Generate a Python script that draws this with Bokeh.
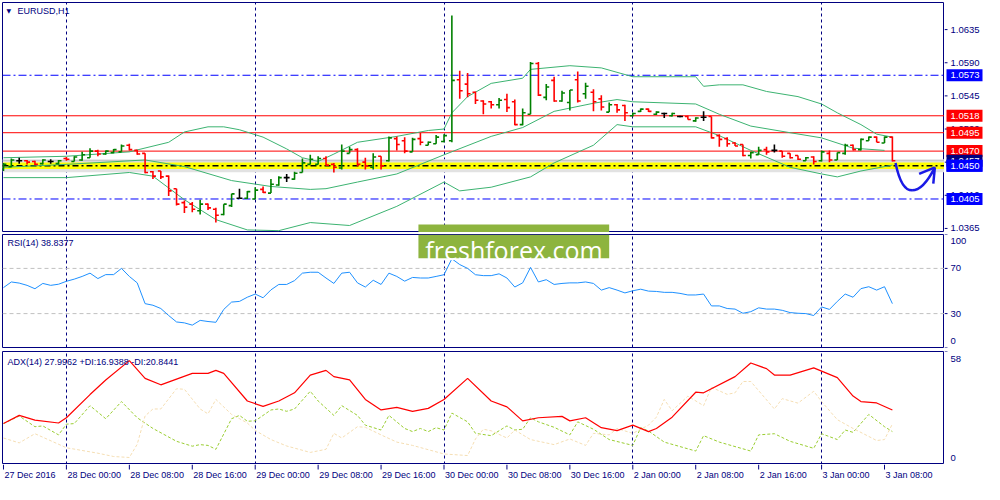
from bokeh.plotting import figure
from bokeh.models import (Range1d, FixedTicker, Span, Label, BoxAnnotation, Grid,
                          ColumnDataSource)
from bokeh.layouts import column, row
from bokeh.embed import file_html
from bokeh.resources import INLINE
from bokeh.core.properties import value

# ---------------- data (EURUSD H1) ----------------
opens = [1.0446, 1.0449, 1.0457, 1.0457, 1.0456, 1.0453, 1.0456, 1.0453, 1.0460, 1.0456,
         1.0458, 1.0461, 1.0470, 1.0466, 1.0468, 1.0469, 1.0478, 1.0471, 1.0467, 1.0442,
         1.0443, 1.0436, 1.0419, 1.0400, 1.0398, 1.0389, 1.0398, 1.0391, 1.0384, 1.0396,
         1.0406, 1.0406, 1.0405, 1.0418, 1.0413, 1.0424, 1.0434, 1.0432, 1.0441, 1.0452,
         1.0452, 1.0460, 1.0452, 1.0447, 1.0467, 1.0472, 1.0455, 1.0448, 1.0463, 1.0457,
         1.0487, 1.0484, 1.0469, 1.0487, 1.0478, 1.0480, 1.0483, 1.0484, 1.0567, 1.0561,
         1.0550, 1.0538, 1.0537, 1.0533, 1.0540, 1.0537, 1.0506, 1.0520, 1.0589, 1.0543,
         1.0566, 1.0538, 1.0536, 1.0567, 1.0548, 1.0550, 1.0541, 1.0523, 1.0533, 1.0532,
         1.0518, 1.0524, 1.0527, 1.0520, 1.0521, 1.0518, 1.0517, 1.0517, 1.0511, 1.0516,
         1.0517, 1.0491, 1.0487, 1.0481, 1.0479, 1.0464, 1.0465, 1.0472, 1.0471, 1.0470,
         1.0467, 1.0464, 1.0457, 1.0462, 1.0457, 1.0467, 1.0458, 1.0467, 1.0478, 1.0472,
         1.0484, 1.0489, 1.0481, 1.0489]
highs = [1.0454, 1.0460, 1.0461, 1.0458, 1.0457, 1.0459, 1.0459, 1.0458, 1.0462, 1.0463,
         1.0469, 1.0474, 1.0472, 1.0471, 1.0473, 1.0479, 1.0480, 1.0472, 1.0467, 1.0443,
         1.0443, 1.0437, 1.0419, 1.0403, 1.0401, 1.0404, 1.0399, 1.0393, 1.0398, 1.0412,
         1.0419, 1.0416, 1.0421, 1.0422, 1.0432, 1.0436, 1.0439, 1.0442, 1.0460, 1.0465,
         1.0463, 1.0463, 1.0454, 1.0479, 1.0476, 1.0474, 1.0461, 1.0467, 1.0463, 1.0490,
         1.0490, 1.0489, 1.0488, 1.0495, 1.0483, 1.0492, 1.0493, 1.0654, 1.0579, 1.0576,
         1.0551, 1.0539, 1.0538, 1.0542, 1.0548, 1.0540, 1.0528, 1.0591, 1.0591, 1.0561,
         1.0571, 1.0552, 1.0553, 1.0578, 1.0563, 1.0554, 1.0546, 1.0536, 1.0534, 1.0533,
         1.0522, 1.0528, 1.0528, 1.0524, 1.0522, 1.0522, 1.0518, 1.0518, 1.0516, 1.0524,
         1.0517, 1.0493, 1.0489, 1.0482, 1.0479, 1.0469, 1.0476, 1.0476, 1.0479, 1.0470,
         1.0467, 1.0464, 1.0462, 1.0463, 1.0471, 1.0471, 1.0468, 1.0480, 1.0479, 1.0487,
         1.0490, 1.0490, 1.0490, 1.0490]
lows = [1.0443, 1.0448, 1.0453, 1.0452, 1.0451, 1.0452, 1.0453, 1.0452, 1.0457, 1.0456,
        1.0457, 1.0461, 1.0463, 1.0465, 1.0467, 1.0469, 1.0471, 1.0465, 1.0440, 1.0432,
        1.0432, 1.0409, 1.0396, 1.0386, 1.0387, 1.0384, 1.0390, 1.0373, 1.0383, 1.0394,
        1.0406, 1.0405, 1.0405, 1.0413, 1.0413, 1.0423, 1.0428, 1.0431, 1.0441, 1.0452,
        1.0452, 1.0450, 1.0441, 1.0445, 1.0467, 1.0449, 1.0445, 1.0445, 1.0445, 1.0456,
        1.0471, 1.0467, 1.0469, 1.0478, 1.0478, 1.0480, 1.0482, 1.0482, 1.0541, 1.0543,
        1.0534, 1.0520, 1.0528, 1.0528, 1.0523, 1.0505, 1.0505, 1.0520, 1.0545, 1.0539,
        1.0537, 1.0537, 1.0525, 1.0536, 1.0541, 1.0524, 1.0525, 1.0523, 1.0522, 1.0511,
        1.0517, 1.0523, 1.0523, 1.0519, 1.0515, 1.0517, 1.0516, 1.0513, 1.0510, 1.0511,
        1.0487, 1.0476, 1.0476, 1.0477, 1.0463, 1.0460, 1.0465, 1.0465, 1.0468, 1.0461,
        1.0460, 1.0458, 1.0457, 1.0452, 1.0456, 1.0455, 1.0458, 1.0465, 1.0471, 1.0471,
        1.0484, 1.0482, 1.0481, 1.0456]
closes = [1.0452, 1.0458, 1.0457, 1.0455, 1.0452, 1.0458, 1.0456, 1.0457, 1.0459, 1.0462,
          1.0465, 1.0470, 1.0466, 1.0470, 1.0472, 1.0477, 1.0472, 1.0466, 1.0441, 1.0436,
          1.0435, 1.0416, 1.0398, 1.0394, 1.0391, 1.0398, 1.0393, 1.0383, 1.0398, 1.0412,
          1.0406, 1.0415, 1.0417, 1.0414, 1.0425, 1.0434, 1.0434, 1.0440, 1.0454, 1.0459,
          1.0460, 1.0451, 1.0448, 1.0470, 1.0472, 1.0452, 1.0450, 1.0462, 1.0450, 1.0488,
          1.0479, 1.0470, 1.0486, 1.0482, 1.0482, 1.0489, 1.0491, 1.0566, 1.0552, 1.0548,
          1.0539, 1.0534, 1.0533, 1.0539, 1.0529, 1.0506, 1.0522, 1.0589, 1.0546, 1.0557,
          1.0538, 1.0549, 1.0553, 1.0538, 1.0558, 1.0537, 1.0530, 1.0533, 1.0526, 1.0522,
          1.0521, 1.0527, 1.0524, 1.0523, 1.0521, 1.0521, 1.0517, 1.0513, 1.0515, 1.0516,
          1.0488, 1.0486, 1.0480, 1.0477, 1.0464, 1.0468, 1.0471, 1.0469, 1.0471, 1.0463,
          1.0461, 1.0459, 1.0461, 1.0456, 1.0469, 1.0458, 1.0468, 1.0478, 1.0472, 1.0486,
          1.0489, 1.0482, 1.0489, 1.0457]

# Bollinger bands (sampled along the curves)
bb_up_x = [0, 8, 16, 21, 23, 26, 28, 30, 33, 36, 38, 40, 42, 45, 50, 54, 56, 57, 59, 62, 66,
           67, 68, 72, 76, 80, 88, 89, 91, 94, 97, 101, 104, 106, 109, 111, 113]
bb_up = [1.0461, 1.0463, 1.0469, 1.0482, 1.0496, 1.0503, 1.0503, 1.0499, 1.0489, 1.0473,
         1.0461, 1.0456, 1.0466, 1.0482, 1.0490, 1.0498, 1.0500, 1.0522, 1.0544, 1.0562,
         1.0569, 1.0581, 1.0582, 1.0586, 1.0583, 1.0571, 1.0571, 1.0558, 1.0560, 1.0560,
         1.0551, 1.0544, 1.0534, 1.0522, 1.0506, 1.0493, 1.0489]
bb_mid_x = [0, 8, 18, 23, 29, 34, 39, 41, 45, 50, 56, 62, 66, 70, 75, 78, 80, 88, 91, 95,
            100, 104, 108, 112]
bb_mid = [1.0448, 1.0452, 1.0458, 1.0449, 1.0430, 1.0422, 1.0418, 1.0419, 1.0428, 1.0439,
          1.0465, 1.0490, 1.0502, 1.0524, 1.0535, 1.0540, 1.0537, 1.0534, 1.0520, 1.0504,
          1.0495, 1.0488, 1.0474, 1.0471]
bb_low_x = [0, 8, 16, 19, 23, 27, 31, 35, 39, 44, 50, 56, 58, 62, 67, 70, 75, 78, 80, 88,
            91, 95, 100, 104, 106, 109, 113]
bb_low = [1.0434, 1.0434, 1.0441, 1.0436, 1.0404, 1.0377, 1.0363, 1.0362, 1.0373, 1.0369,
          1.0395, 1.0428, 1.0416, 1.0421, 1.0435, 1.0454, 1.0478, 1.0506, 1.0503, 1.0503,
          1.0491, 1.0471, 1.0448, 1.0439, 1.0435, 1.0443, 1.0451]

rsi = [53, 58, 57, 55, 52, 56.7, 55, 56, 58.6, 60.5,
       62.9, 65.8, 61, 64.5, 64.5, 70, 62.9, 57.2, 38.8, 37.4,
       34.5, 28.3, 22.6, 21.8, 19.8, 24, 23, 22.3, 33.7, 40.2,
       40.8, 44.5, 47.3, 44, 51, 55.8, 55.8, 59.2, 65.8, 66.6,
       66.6, 61.5, 56.7, 65.8, 66.6, 57.2, 53.5, 59.5, 55.8, 65.8,
       62.9, 58.7, 62, 61.5, 61.5, 62.9, 64.4, 78.5, 73.4, 70,
       64.4, 63.6, 63.6, 65.2, 61.5, 53.5, 57.2, 70.9, 58, 60,
       55.8, 56.7, 57.2, 57.2, 58, 56.7, 50.8, 53, 50.8, 48.3,
       50.2, 51.6, 49.9, 49.6, 48.8, 48.8, 47.9, 46.5, 46.5, 47.3,
       36.8, 36.8, 34.5, 34, 30.3, 31.7, 35.1, 34, 34, 32.9,
       30.9, 30.3, 30, 28.3, 35.9, 33.7, 40.8, 47.3, 44.5, 52.1,
       53.8, 50.8, 53.8, 38.8]

adx_x = [0, 2, 4, 7, 8, 11, 13, 16, 18, 20, 24, 26, 27, 28, 31, 33, 35, 37, 39, 41, 42, 44,
         46, 48, 50, 52, 54, 56, 59, 62, 64, 66, 68, 71, 72, 74, 76, 78, 80, 82, 83, 85, 88,
         89, 93, 95, 97, 98, 100, 103, 106, 108, 109, 111, 113]
adx = [21.0, 25.2, 22.8, 21.3, 24.0, 35.9, 43.4, 53.3, 44.2, 40.9, 46.8, 46.8, 48.3, 46.8,
       32.6, 29.8, 32.6, 36.8, 45.9, 48.3, 45.1, 43.4, 33.4, 28.0, 29.3, 27.3, 28.8, 33.4,
       44.2, 32.6, 29.6, 22.4, 24.0, 24.7, 22.4, 24.0, 18.9, 17.4, 20.2, 16.9, 18.5, 24.3,
       37.1, 36.8, 45.1, 52.1, 49.2, 45.9, 45.9, 49.6, 44.6, 35.1, 32.3, 31.6, 28.0]
pdi_x = [0, 2, 4, 5, 7, 8, 9, 11, 13, 15, 17, 19, 22, 24, 25, 26, 27, 29, 30, 31, 32, 34, 35,
         36, 37, 39, 40, 42, 43, 45, 46, 48, 49, 51, 52, 53, 54, 55, 56, 57, 59, 60, 62, 64,
         65, 66, 67, 68, 70, 72, 73, 75, 77, 80, 81, 82, 84, 88, 89, 91, 95, 96, 98, 100,
         103, 104, 106, 107, 108, 110, 112, 113]
pdi = [21.0, 24.9, 19.4, 19.8, 15.2, 20.7, 21.0, 30.2, 23.5, 32.3, 24.0, 18.5, 11.9, 9.4,
       10.2, 9.8, 7.8, 23.5, 25.2, 22.2, 22.4, 28.0, 28.5, 27.3, 28.5, 37.6, 32.6, 25.2,
       30.2, 25.2, 20.2, 17.7, 25.2, 18.5, 16.9, 18.5, 16.9, 18.9, 17.7, 26.4, 21.9, 16.0,
       14.8, 19.8, 17.7, 18.1, 24.0, 21.9, 19.1, 15.2, 21.9, 18.1, 12.8, 9.8, 18.9, 17.2,
       11.5, 6.9, 14.8, 11.5, 6.9, 15.2, 15.8, 11.9, 8.3, 15.8, 12.8, 17.7, 16.5, 25.7,
       19.4, 16.9]
mdi_x = [0, 2, 4, 8, 12, 14, 16, 17, 18, 19, 20, 22, 23, 25, 26, 27, 29, 31, 32, 34, 36, 39,
         41, 42, 43, 45, 46, 48, 50, 52, 56, 59, 60, 61, 62, 64, 65, 67, 70, 72, 74, 75, 77,
         78, 80, 82, 83, 84, 85, 87, 89, 90, 92, 93, 94, 95, 98, 99, 101, 103, 104, 106, 108,
         110, 111, 112, 113]
mdi = [13.6, 11.1, 15.8, 8.6, 5.8, 4.1, 3.6, 10.4, 24.9, 28.5, 28.5, 38.9, 38.6, 28.5, 26.0,
       33.4, 25.7, 21.3, 17.5, 12.8, 9.5, 6.2, 7.8, 16.0, 13.6, 19.4, 19.1, 15.2, 11.5, 9.8,
       5.4, 4.6, 13.1, 18.1, 17.3, 13.6, 17.7, 12.8, 10.2, 13.1, 9.8, 16.0, 15.2, 18.5, 16.0,
       20.2, 24.3, 33.4, 27.6, 35.1, 30.2, 39.6, 36.0, 36.8, 42.6, 42.6, 28.5, 33.8, 31.5,
       37.6, 32.3, 23.0, 18.5, 14.4, 12.3, 12.8, 20.8]

time_ticks = [0, 8, 16, 24, 32, 40, 48, 56, 64, 72, 80, 88, 96, 104, 112]
time_labels = ["27 Dec 2016", "28 Dec 00:00", "28 Dec 08:00", "28 Dec 16:00",
               "29 Dec 00:00", "29 Dec 08:00", "29 Dec 16:00", "30 Dec 00:00",
               "30 Dec 08:00", "30 Dec 16:00", "2 Jan 00:00", "2 Jan 08:00",
               "2 Jan 16:00", "3 Jan 00:00", "3 Jan 08:00"]
day_starts = [8, 32, 56, 80, 104]
price_ticks = [1.0365, 1.0410, 1.0455, 1.0500, 1.0545, 1.0590, 1.0635]
blue_levels = [1.0573, 1.0405]
red_levels = [1.0518, 1.0495, 1.0470]
yellow_level = 1.0450
bid_price = 1.0457
tag_prices = [1.0573, 1.0518, 1.0495, 1.0470, 1.0457, 1.0450, 1.0405]
tag_colors = ["#0000FF", "#FF0000", "#FF0000", "#FF0000", "#000080", "#0000FF", "#0000FF"]
rsi_levels = [30, 70]
rsi_scale = [100, 70, 30, 0]
adx_scale = [58, 0]

# hand-drawn arrow (two cubic pieces + head)
arr_x0 = [113.4, 115.5]; arr_y0 = [1.0454, 1.04167]
arr_cx0 = [113.9, 116.6]; arr_cy0 = [1.0428, 1.04167]
arr_cx1 = [114.6, 117.6]; arr_cy1 = [1.04167, 1.0431]
arr_x1 = [115.5, 118.4]; arr_y1 = [1.04167, 1.0448]
head_x1 = [116.4, 118.2]; head_y1 = [1.0439, 1.0426]

# ---------------- styling ----------------
NAVY = "#000080"
FONT = "Liberation Sans"
PW = 944          # pane figure width (frame 942)
AW = 40           # price-scale strip width
XR = Range1d(-0.125, 119.625)
GREEN_BAR = "#008000"
BB = "#3CB371"
WM = "#8DB43E"


def pane(height, yr, top, bottom):
    p = figure(width=PW, height=height, x_range=XR, y_range=yr,
               output_backend="svg", toolbar_location=None,
               x_axis_location=None, y_axis_location=None,
               min_border_left=2, min_border_right=0,
               min_border_top=top, min_border_bottom=bottom)
    p.background_fill_color = "white"
    p.border_fill_color = "white"
    p.outline_line_color = NAVY
    p.outline_line_width = 1
    for g in p.grid:
        g.visible = False
    p.add_layout(Grid(dimension=0, ticker=FixedTicker(ticks=day_starts),
                      grid_line_color=NAVY, grid_line_dash="3 3", grid_line_width=1))
    return p


def scale_strip(height, yr, top, bottom):
    s = figure(width=AW, height=height, x_range=Range1d(0, AW), y_range=yr,
               output_backend="svg", toolbar_location=None,
               x_axis_location=None, y_axis_location=None,
               min_border_left=0, min_border_right=0,
               min_border_top=top, min_border_bottom=bottom)
    s.outline_line_color = None
    s.background_fill_color = "white"
    s.border_fill_color = "white"
    for g in s.grid:
        g.visible = False
    return s


def scale_marks(s, vals, labels, yoffs):
    n = len(vals)
    s.segment(x0=[0] * n, y0=vals, x1=[3] * n, y1=vals, line_color=NAVY, line_width=1)
    s.text(x=[6] * n, y=vals, text=labels, y_offset=yoffs, text_font=value(FONT),
           text_font_size="9.5px", text_color=NAVY, text_baseline="middle", text_align="left")


def title(p, text, ytop, off, x_off=5):
    p.add_layout(Label(x=XR.start, y=ytop, x_offset=x_off, y_offset=off, text=text,
                       text_font=FONT, text_font_size="9px", text_color=NAVY,
                       text_baseline="middle"))


# ---------------- main price pane ----------------
MAIN_Y = Range1d(1.03595, 1.06718)
main = pane(232, MAIN_Y, 2, 0)

main.add_layout(Span(location=yellow_level, dimension="width", line_color="#E2E2E2",
                     line_width=13, level="underlay"))
main.add_layout(Span(location=yellow_level, dimension="width", line_color="#FFFF00",
                     line_width=6.5, level="underlay"))
main.add_layout(Span(location=bid_price, dimension="width", line_color="#C0C0C0",
                     line_width=1, level="underlay"))
main.add_layout(Span(location=yellow_level, dimension="width", line_color="#000000",
                     line_width=1.5, line_dash="6 3 2 3", level="underlay"))
for lv in red_levels:
    main.add_layout(Span(location=lv, dimension="width", line_color="#FF0000",
                         line_width=1, level="underlay"))
for lv in blue_levels:
    main.add_layout(Span(location=lv, dimension="width", line_color="#0000FF",
                         line_width=1, line_dash="8 3 2 3", level="underlay"))

main.line(bb_up_x, bb_up, line_color=BB, line_width=1)
main.line(bb_mid_x, bb_mid, line_color=BB, line_width=1)
main.line(bb_low_x, bb_low, line_color=BB, line_width=1)

idx = list(range(len(opens)))
colors = [GREEN_BAR if c > o else ("#FF0000" if c < o else "#000000")
          for o, c in zip(opens, closes)]
src = ColumnDataSource(dict(i=idx, il=[i - 0.375 for i in idx], ir=[i + 0.375 for i in idx],
                            o=opens, h=highs, l=lows, c=closes, col=colors))
main.segment(x0="i", y0="l", x1="i", y1="h", line_color="col", line_width=1.6, source=src)
main.segment(x0="il", y0="o", x1="i", y1="o", line_color="col", line_width=1.6, source=src)
main.segment(x0="i", y0="c", x1="ir", y1="c", line_color="col", line_width=1.6, source=src)

main.bezier(x0=arr_x0, y0=arr_y0, x1=arr_x1, y1=arr_y1, cx0=arr_cx0, cy0=arr_cy0,
            cx1=arr_cx1, cy1=arr_cy1, line_color="#1A1AE6", line_width=2.5)
main.segment(x0=[arr_x1[-1]] * 2, y0=[arr_y1[-1]] * 2, x1=head_x1, y1=head_y1,
             line_color="#1A1AE6", line_width=2.5)

main.add_layout(Label(x=XR.start, y=MAIN_Y.end, x_offset=4, y_offset=-8, text="\u25BC",
                      text_font="DejaVu Sans", text_font_size="6px", text_color=NAVY,
                      text_baseline="middle"))
title(main, "EURUSD,H1", MAIN_Y.end, -8, x_off=15)

main.add_layout(BoxAnnotation(left=52.75, right=77.0, top=1.03703, fill_color=WM,
                              fill_alpha=1, line_alpha=0, level="overlay"))

main_scale = scale_strip(232, MAIN_Y, 2, 0)
scale_marks(main_scale, price_ticks, ["%.4f" % v for v in price_ticks], 0)
main_scale.rect(x=[20] * len(tag_prices), y=tag_prices, width=36, height=12,
                height_units="screen", fill_color=tag_colors, line_color=None)
main_scale.text(x=[6] * len(tag_prices), y=tag_prices, text=["%.4f" % v for v in tag_prices],
                text_font=value(FONT), text_font_size="9.5px", text_color="white",
                text_baseline="middle", text_align="left")
# 1.0450 tag sits above the bid tag
main_scale.rect(x=[20], y=[tag_prices[5]], width=36, height=12, height_units="screen",
                fill_color=tag_colors[5], line_color=None)
main_scale.text(x=[6], y=[tag_prices[5]], text=["%.4f" % tag_prices[5]],
                text_font=value(FONT), text_font_size="9.5px", text_color="white",
                text_baseline="middle", text_align="left")

# ---------------- RSI pane ----------------
RSI_Y = Range1d(0, 100)
prsi = pane(117, RSI_Y, 2, 2)
for lv in rsi_levels:
    prsi.add_layout(Span(location=lv, dimension="width", line_color="#C0C0C0",
                         line_width=1, line_dash="4 3", level="underlay"))
prsi.line(idx, rsi, line_color="#1E90FF", line_width=1)
title(prsi, "RSI(14) 38.8377", RSI_Y.end, -8)
prsi.add_layout(BoxAnnotation(left=52.75, right=77.0, bottom=79.0, fill_color=WM,
                              fill_alpha=1, line_alpha=0, level="overlay"))
prsi.add_layout(Label(x=64.9, y=86.0, text="freshforex.com", text_align="center",
                      text_baseline="alphabetic", text_color="white", text_font="Open Sans",
                      text_font_size="25px", level="overlay"))

rsi_scale_fig = scale_strip(117, RSI_Y, 2, 2)
scale_marks(rsi_scale_fig, rsi_scale, [str(v) for v in rsi_scale], [6, 0, 0, -7])

# ---------------- ADX pane ----------------
ADX_Y = Range1d(0, 58)
padx = pane(115, ADX_Y, 2, 0)
padx.line(pdi_x, pdi, line_color="#9ACD32", line_width=1, line_dash="3 2")
padx.line(mdi_x, mdi, line_color="#F5DEB3", line_width=1, line_dash="3 2")
padx.line(adx_x, adx, line_color="#FF0000", line_width=1.2)
title(padx, "ADX(14) 27.9962 +DI:16.9388 -DI:20.8441", ADX_Y.end, -10)

adx_scale_fig = scale_strip(115, ADX_Y, 2, 0)
scale_marks(adx_scale_fig, adx_scale, [str(v) for v in adx_scale], [7, -7])

# ---------------- time scale ----------------
TY = Range1d(0, 20)
tscale = figure(width=PW, height=20, x_range=XR, y_range=TY, output_backend="svg",
                toolbar_location=None, x_axis_location=None, y_axis_location=None,
                min_border_left=2, min_border_right=0, min_border_top=0, min_border_bottom=0)
tscale.outline_line_color = None
for g in tscale.grid:
    g.visible = False
nt = len(time_ticks)
tscale.segment(x0=time_ticks, y0=[20] * nt, x1=time_ticks, y1=[15] * nt,
               line_color=NAVY, line_width=1)
tscale.text(x=time_ticks, y=[10] * nt, text=time_labels, x_offset=1,
            text_font=value(FONT), text_font_size="9px", text_color=NAVY,
            text_baseline="middle", text_align="left")
tfill = scale_strip(20, TY, 0, 0)

layout = column(row(main, main_scale), row(prsi, rsi_scale_fig),
                row(padx, adx_scale_fig), row(tscale, tfill))
open("out.html", "w").write(file_html(layout, INLINE))
